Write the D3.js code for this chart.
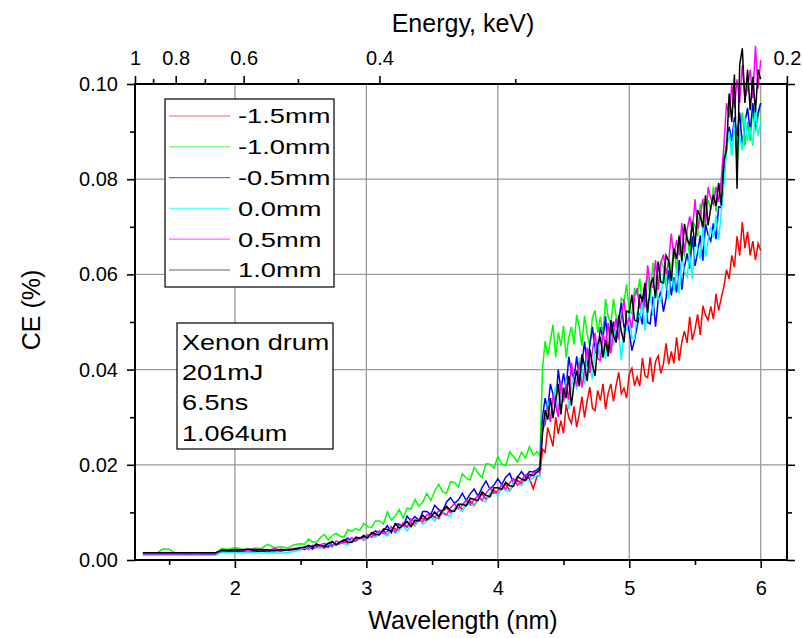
<!DOCTYPE html>
<html>
<head>
<meta charset="utf-8">
<script src="https://cdn.jsdelivr.net/npm/d3@7"></script>
<style>
  body { margin: 0; background: #fff; }
  text { font-family: "Liberation Sans", Arial, sans-serif; fill: #000; }
</style>
</head>
<body>
<svg id="chart" width="803" height="638"></svg>
<script>
// ---------------- DATA ----------------
const wavelengths = [
  1.30,1.35,1.40,1.45,1.50,1.55,1.60,1.65,1.70,1.75,1.80,1.85,1.90,1.95,2.00,2.05,2.10,2.15,2.20,2.25,2.30,2.35,2.40,2.45,2.50,
  2.53,2.56,2.59,2.62,2.65,2.68,2.71,2.74,2.77,2.80,
  2.83,2.86,2.89,2.92,2.95,2.98,3.01,3.04,3.07,3.10,
  3.13,3.16,3.19,3.22,3.25,3.28,3.31,3.34,3.37,3.40,
  3.43,3.46,3.49,3.52,3.55,3.58,3.61,3.64,3.67,3.70,
  3.73,3.76,3.79,3.82,3.85,3.88,3.91,3.94,3.97,4.00,
  4.03,4.06,4.09,4.12,4.15,4.18,4.21,4.24,4.27,4.30,
  4.32,4.34,4.36,4.38,4.40,4.42,4.44,4.46,4.48,4.50,
  4.52,4.54,4.56,4.58,4.60,4.62,4.64,4.66,4.68,4.70,
  4.72,4.74,4.76,4.78,4.80,4.82,4.84,4.86,4.88,4.90,
  4.92,4.94,4.96,4.98,5.00,5.02,5.04,5.06,5.08,5.10,
  5.12,5.14,5.16,5.18,5.20,5.22,5.24,5.26,5.28,5.30,
  5.32,5.34,5.36,5.38,5.40,5.42,5.44,5.46,5.48,5.50,
  5.52,5.54,5.56,5.58,5.60,5.62,5.64,5.66,5.68,5.70,
  5.72,5.74,5.76,5.78,5.80,5.82,5.84,5.86,5.88,5.90,
  5.92,5.94,5.96,5.98,6.00
];

const seriesNames = ["-1.5mm", "-1.0mm", "-0.5mm", "0.0mm", "0.5mm", "1.0mm"];
const seriesColors = ["#ff0000", "#00ff00", "#0000ff", "#00ffff", "#ff00ff", "#000000"];

const ceMinus15 = [
  0.0013,0.0013,0.0013,0.0013,0.0013,0.0013,0.0013,0.0013,0.0013,0.0013,0.0013,0.0013,
  0.0020,0.0020,0.0021,0.0020,0.0021,0.0020,0.0022,0.0021,0.0020,0.0022,0.0021,0.0022,0.0024,
  0.0027,0.0022,0.0028,0.0031,0.0027,0.0025,0.0035,0.0031,0.0031,0.0037,
  0.0042,0.0034,0.0040,0.0040,0.0047,0.0041,0.0049,0.0055,0.0050,0.0054,
  0.0062,0.0051,0.0066,0.0065,0.0062,0.0078,0.0070,0.0078,0.0072,0.0086,
  0.0087,0.0082,0.0096,0.0090,0.0087,0.0102,0.0110,0.0100,0.0106,0.0117,
  0.0105,0.0116,0.0124,0.0114,0.0128,0.0139,0.0128,0.0135,0.0147,0.0138,
  0.0152,0.0160,0.0146,0.0157,0.0168,0.0160,0.0172,0.0172,0.0150,0.0177,
  0.0178,0.0233,0.0226,0.0278,0.0259,0.0239,0.0300,0.0265,0.0293,0.0266,
  0.0327,0.0299,0.0287,0.0323,0.0279,0.0307,0.0343,0.0299,0.0335,0.0363,
  0.0319,0.0314,0.0356,0.0335,0.0370,0.0317,0.0351,0.0370,0.0333,0.0367,
  0.0394,0.0349,0.0361,0.0340,0.0391,0.0403,0.0366,0.0385,0.0365,0.0424,
  0.0387,0.0383,0.0426,0.0374,0.0417,0.0429,0.0392,0.0412,0.0455,0.0411,
  0.0438,0.0413,0.0468,0.0419,0.0458,0.0481,0.0456,0.0511,0.0462,0.0485,
  0.0516,0.0473,0.0534,0.0515,0.0504,0.0533,0.0506,0.0559,0.0524,0.0550,
  0.0575,0.0610,0.0590,0.0640,0.0615,0.0680,0.0640,0.0710,0.0655,0.0690,
  0.0640,0.0670,0.0630,0.0665,0.0650
];
const ceMinus10 = [
  0.0013,0.0013,0.0013,0.0023,0.0023,0.0013,0.0013,0.0013,0.0013,0.0013,0.0013,0.0013,
  0.0024,0.0022,0.0026,0.0023,0.0021,0.0025,0.0024,0.0033,0.0026,0.0028,0.0025,0.0032,0.0034,
  0.0033,0.0044,0.0038,0.0038,0.0047,0.0054,0.0042,0.0051,0.0056,0.0050,
  0.0048,0.0064,0.0060,0.0066,0.0062,0.0077,0.0070,0.0068,0.0082,0.0082,
  0.0076,0.0101,0.0084,0.0092,0.0106,0.0088,0.0109,0.0107,0.0127,0.0113,
  0.0122,0.0140,0.0125,0.0145,0.0159,0.0143,0.0140,0.0164,0.0163,0.0154,
  0.0181,0.0172,0.0168,0.0195,0.0182,0.0173,0.0202,0.0201,0.0193,0.0217,
  0.0202,0.0198,0.0227,0.0217,0.0206,0.0226,0.0214,0.0238,0.0220,0.0228,
  0.0218,0.0400,0.0460,0.0430,0.0462,0.0494,0.0426,0.0478,0.0450,0.0492,
  0.0425,0.0468,0.0490,0.0453,0.0515,0.0488,0.0450,0.0513,0.0475,0.0448,
  0.0510,0.0524,0.0477,0.0511,0.0474,0.0548,0.0511,0.0495,0.0548,0.0512,
  0.0485,0.0550,0.0544,0.0579,0.0523,0.0518,0.0572,0.0557,0.0591,0.0526,
  0.0580,0.0595,0.0550,0.0625,0.0580,0.0575,0.0630,0.0615,0.0570,0.0635,
  0.0610,0.0658,0.0606,0.0684,0.0652,0.0640,0.0688,0.0636,0.0714,0.0702,
  0.0680,0.0749,0.0688,0.0727,0.0756,0.0735,0.0784,0.0732,0.0790,0.0780,
  0.0840,0.0880,0.0910,0.0850,0.0920,0.0830,0.0900,0.0940,0.0870,0.0920,
  0.0880,0.0950,0.0900,0.0930,0.0960
];
const ceMinus05 = [
  0.0010,0.0010,0.0010,0.0010,0.0010,0.0010,0.0010,0.0012,0.0010,0.0010,0.0012,0.0010,
  0.0018,0.0018,0.0019,0.0018,0.0020,0.0018,0.0019,0.0018,0.0020,0.0019,0.0021,0.0022,0.0024,
  0.0022,0.0028,0.0023,0.0029,0.0032,0.0029,0.0027,0.0038,0.0034,0.0034,
  0.0041,0.0046,0.0039,0.0045,0.0045,0.0052,0.0046,0.0055,0.0061,0.0057,
  0.0061,0.0072,0.0057,0.0076,0.0075,0.0071,0.0092,0.0082,0.0091,0.0083,
  0.0102,0.0102,0.0095,0.0115,0.0106,0.0102,0.0122,0.0131,0.0119,0.0126,
  0.0140,0.0125,0.0139,0.0149,0.0134,0.0152,0.0166,0.0149,0.0157,0.0171,
  0.0158,0.0174,0.0182,0.0162,0.0174,0.0186,0.0174,0.0186,0.0185,0.0190,
  0.0195,0.0300,0.0340,0.0315,0.0370,0.0348,0.0325,0.0400,0.0356,0.0392,
  0.0360,0.0427,0.0394,0.0381,0.0428,0.0375,0.0412,0.0459,0.0406,0.0453,
  0.0490,0.0437,0.0433,0.0489,0.0465,0.0512,0.0428,0.0474,0.0501,0.0457,
  0.0504,0.0540,0.0487,0.0503,0.0480,0.0440,0.0462,0.0491,0.0518,0.0495,
  0.0572,0.0499,0.0496,0.0553,0.0490,0.0547,0.0564,0.0522,0.0550,0.0608,
  0.0556,0.0594,0.0562,0.0630,0.0568,0.0616,0.0644,0.0612,0.0680,0.0618,
  0.0645,0.0682,0.0629,0.0706,0.0683,0.0670,0.0707,0.0674,0.0742,0.0740,
  0.0800,0.0870,0.0910,0.0880,0.0930,0.0890,0.0940,0.0870,0.0920,0.0950,
  0.0900,0.0960,0.0910,0.0940,0.0960
];
const ceZero = [
  0.0010,0.0010,0.0010,0.0010,0.0010,0.0010,0.0010,0.0010,0.0010,0.0010,0.0010,0.0010,
  0.0016,0.0016,0.0015,0.0016,0.0015,0.0016,0.0014,0.0016,0.0015,0.0014,0.0016,0.0018,0.0021,
  0.0027,0.0023,0.0030,0.0026,0.0025,0.0031,0.0035,0.0027,0.0034,0.0037,
  0.0034,0.0032,0.0043,0.0041,0.0045,0.0042,0.0052,0.0049,0.0048,0.0057,
  0.0055,0.0051,0.0067,0.0057,0.0063,0.0072,0.0061,0.0074,0.0072,0.0085,
  0.0075,0.0081,0.0091,0.0082,0.0094,0.0103,0.0094,0.0092,0.0107,0.0107,
  0.0103,0.0120,0.0116,0.0115,0.0132,0.0125,0.0122,0.0141,0.0142,0.0137,
  0.0153,0.0146,0.0144,0.0165,0.0160,0.0156,0.0170,0.0166,0.0173,0.0178,
  0.0175,0.0280,0.0285,0.0335,0.0290,0.0328,0.0365,0.0300,0.0356,0.0332,
  0.0380,0.0317,0.0364,0.0391,0.0358,0.0425,0.0402,0.0369,0.0436,0.0403,
  0.0380,0.0447,0.0463,0.0419,0.0455,0.0422,0.0498,0.0464,0.0451,0.0507,
  0.0474,0.0420,0.0487,0.0483,0.0520,0.0467,0.0464,0.0521,0.0508,0.0545,
  0.0482,0.0539,0.0556,0.0513,0.0590,0.0547,0.0544,0.0602,0.0590,0.0548,
  0.0616,0.0564,0.0612,0.0560,0.0638,0.0606,0.0594,0.0642,0.0590,0.0668,
  0.0655,0.0632,0.0699,0.0636,0.0673,0.0700,0.0677,0.0724,0.0672,0.0730,
  0.0790,0.0860,0.0900,0.0850,0.0920,0.0870,0.0890,0.0860,0.0930,0.0880,
  0.0910,0.0870,0.0950,0.0890,0.0920
];
const cePlus05 = [
  0.0013,0.0013,0.0013,0.0013,0.0013,0.0013,0.0013,0.0013,0.0013,0.0013,0.0013,0.0013,
  0.0020,0.0021,0.0020,0.0022,0.0020,0.0023,0.0021,0.0020,0.0024,0.0021,0.0022,0.0024,0.0025,
  0.0027,0.0025,0.0031,0.0026,0.0032,0.0035,0.0031,0.0029,0.0040,0.0036,
  0.0036,0.0042,0.0047,0.0040,0.0046,0.0046,0.0053,0.0048,0.0056,0.0061,
  0.0056,0.0060,0.0070,0.0058,0.0073,0.0073,0.0069,0.0086,0.0078,0.0086,
  0.0080,0.0095,0.0094,0.0089,0.0104,0.0098,0.0095,0.0110,0.0118,0.0109,
  0.0115,0.0126,0.0116,0.0127,0.0135,0.0125,0.0140,0.0151,0.0140,0.0146,
  0.0158,0.0149,0.0162,0.0171,0.0157,0.0167,0.0179,0.0172,0.0183,0.0185,
  0.0185,0.0275,0.0285,0.0325,0.0290,0.0348,0.0325,0.0300,0.0376,0.0332,
  0.0370,0.0337,0.0414,0.0381,0.0368,0.0415,0.0362,0.0399,0.0446,0.0393,
  0.0440,0.0477,0.0423,0.0419,0.0475,0.0452,0.0498,0.0434,0.0481,0.0507,
  0.0464,0.0510,0.0547,0.0493,0.0510,0.0487,0.0554,0.0571,0.0528,0.0555,
  0.0532,0.0619,0.0576,0.0573,0.0630,0.0567,0.0624,0.0642,0.0600,0.0628,
  0.0686,0.0634,0.0672,0.0640,0.0708,0.0646,0.0694,0.0722,0.0690,0.0758,
  0.0695,0.0722,0.0759,0.0706,0.0783,0.0760,0.0747,0.0784,0.0752,0.0800,
  0.0870,0.0960,0.0930,0.1000,0.0950,0.1010,0.0960,0.1040,0.0970,0.0990,
  0.1030,0.0970,0.1080,0.0990,0.1050
];
const cePlus10 = [
  0.0015,0.0015,0.0015,0.0015,0.0015,0.0015,0.0015,0.0015,0.0015,0.0015,0.0015,0.0015,
  0.0021,0.0020,0.0022,0.0021,0.0023,0.0021,0.0022,0.0021,0.0020,0.0022,0.0021,0.0023,0.0026,
  0.0027,0.0031,0.0027,0.0034,0.0030,0.0029,0.0035,0.0039,0.0032,0.0038,
  0.0042,0.0038,0.0037,0.0048,0.0046,0.0050,0.0047,0.0058,0.0054,0.0053,
  0.0065,0.0064,0.0060,0.0076,0.0067,0.0073,0.0081,0.0070,0.0084,0.0082,
  0.0094,0.0085,0.0090,0.0101,0.0092,0.0104,0.0113,0.0104,0.0102,0.0117,
  0.0117,0.0114,0.0130,0.0127,0.0125,0.0143,0.0136,0.0133,0.0152,0.0152,
  0.0148,0.0163,0.0156,0.0155,0.0175,0.0170,0.0167,0.0180,0.0177,0.0185,
  0.0190,0.0265,0.0315,0.0295,0.0340,0.0298,0.0335,0.0370,0.0306,0.0362,
  0.0340,0.0387,0.0324,0.0371,0.0398,0.0365,0.0432,0.0409,0.0376,0.0443,
  0.0410,0.0387,0.0453,0.0469,0.0425,0.0462,0.0428,0.0504,0.0471,0.0457,
  0.0514,0.0480,0.0457,0.0523,0.0520,0.0557,0.0504,0.0501,0.0558,0.0545,
  0.0582,0.0519,0.0576,0.0593,0.0550,0.0627,0.0584,0.0582,0.0640,0.0628,
  0.0586,0.0654,0.0632,0.0680,0.0628,0.0706,0.0674,0.0662,0.0710,0.0658,
  0.0735,0.0722,0.0699,0.0766,0.0703,0.0740,0.0767,0.0744,0.0792,0.0745,
  0.0840,0.0860,0.0980,0.0920,0.1020,0.0780,0.1040,0.1075,0.0960,0.1030,
  0.0945,0.1015,0.0940,0.1030,0.1010
];
const seriesValues = [ceMinus15, ceMinus10, ceMinus05, ceZero, cePlus05, cePlus10];

const yTicks = [0.00, 0.02, 0.04, 0.06, 0.08, 0.10];
const yMinorTicks = [0.01, 0.03, 0.05, 0.07, 0.09];
const xTicks = [2, 3, 4, 5, 6];
const xMinorTicks = [1.5, 2.5, 3.5, 4.5, 5.5];
const energyTicks = [1, 0.8, 0.6, 0.4, 0.2];
const energyMinorTicks = [0.9, 0.7, 0.5, 0.3];
const infoLines = ["Xenon drum", "201mJ", "6.5ns", "1.064um"];
const HC = 1.2398; // keV·nm, converts energy to wavelength for the top axis

// ---------------- CHART ----------------
const svg = d3.select("#chart");
const L = 135, R = 787, T = 84, B = 560;

const x = d3.scaleLinear().domain([1.24, 6.2]).range([L, R]);
const y = d3.scaleLinear().domain([0, 0.10]).range([B, T]);

// grid
const grid = svg.append("g").attr("stroke", "#999").attr("stroke-width", 1.3);
grid.selectAll("line.gx").data(xTicks).join("line")
  .attr("x1", d => x(d)).attr("x2", d => x(d)).attr("y1", T).attr("y2", B);
grid.selectAll("line.gy").data(yTicks.slice(1, -1)).join("line")
  .attr("x1", L).attr("x2", R).attr("y1", d => y(d)).attr("y2", d => y(d));

// data lines
const line = d3.line()
  .defined((d, i) => i < wavelengths.length && d != null)
  .x((d, i) => x(wavelengths[i])).y(d => y(d));
svg.append("g").selectAll("path").data(seriesValues).join("path")
  .attr("d", d => line(d))
  .attr("fill", "none")
  .attr("stroke", (d, i) => seriesColors[i])
  .attr("stroke-width", 1.5)
  .attr("stroke-linejoin", "miter");

function styleAxis(g) {
  g.select(".domain").remove();
  g.selectAll(".tick line").attr("stroke", "#000").attr("stroke-width", 1.6);
  g.selectAll(".tick text").attr("font-size", 20).attr("font-family", "Liberation Sans, Arial, sans-serif");
}

// left
svg.append("g").attr("transform", `translate(${L},0)`)
  .call(d3.axisLeft(y).tickValues(yTicks).tickFormat(d3.format(".2f")).tickSize(8).tickPadding(9))
  .call(styleAxis);
svg.append("g").attr("transform", `translate(${L},0)`)
  .call(d3.axisLeft(y).tickValues(yMinorTicks).tickFormat("").tickSize(5))
  .call(styleAxis);
// right
svg.append("g").attr("transform", `translate(${R},0)`)
  .call(d3.axisRight(y).tickValues(yTicks).tickFormat("").tickSize(8))
  .call(styleAxis);
svg.append("g").attr("transform", `translate(${R},0)`)
  .call(d3.axisRight(y).tickValues(yMinorTicks).tickFormat("").tickSize(5))
  .call(styleAxis);
// bottom
svg.append("g").attr("transform", `translate(0,${B})`)
  .call(d3.axisBottom(x).tickValues(xTicks).tickFormat(d3.format("d")).tickSize(8).tickPadding(13))
  .call(styleAxis);
svg.append("g").attr("transform", `translate(0,${B})`)
  .call(d3.axisBottom(x).tickValues(xMinorTicks).tickFormat("").tickSize(5))
  .call(styleAxis);
// top (energy)
svg.append("g").attr("transform", `translate(0,${T})`)
  .call(d3.axisTop(x).tickValues(energyTicks.map(e => HC / e))
    .tickFormat((d, i) => String(energyTicks[i])).tickSize(8).tickPadding(11))
  .call(styleAxis);
svg.append("g").attr("transform", `translate(0,${T})`)
  .call(d3.axisTop(x).tickValues(energyMinorTicks.map(e => HC / e)).tickFormat("").tickSize(5))
  .call(styleAxis);

// frame
svg.append("rect").attr("x", L).attr("y", T).attr("width", R - L).attr("height", B - T)
  .attr("fill", "none").attr("stroke", "#000").attr("stroke-width", 2);

// titles
svg.append("text").attr("x", 463).attr("y", 622).attr("text-anchor", "middle")
  .attr("dominant-baseline", "middle").attr("font-size", 25).text("Wavelength (nm)");
svg.append("text").attr("x", 463).attr("y", 25).attr("text-anchor", "middle")
  .attr("dominant-baseline", "middle").attr("font-size", 25).text("Energy, keV)");
svg.append("text").attr("transform", "translate(33,310) rotate(-90)").attr("text-anchor", "middle")
  .attr("dominant-baseline", "middle").attr("font-size", 25).text("CE (%)");

// legend
const leg = svg.append("g");
leg.append("rect").attr("x", 165).attr("y", 99).attr("width", 169).attr("height", 188)
  .attr("fill", "#fff").attr("stroke", "#000").attr("stroke-width", 1.2);
const rowY = d3.scalePoint().domain(seriesNames).range([116, 270]);
seriesNames.forEach((name, i) => {
  leg.append("line").attr("x1", 169).attr("x2", 230).attr("y1", rowY(name)).attr("y2", rowY(name))
    .attr("stroke", seriesColors[i]).attr("stroke-width", 1.2).attr("stroke-opacity", 0.6);
  leg.append("text").attr("transform", `translate(238,${rowY(name)}) scale(1.3,1)`)
    .attr("dominant-baseline", "central").attr("font-size", 21).text(name);
});

// info box
const info = svg.append("g");
info.append("rect").attr("x", 177).attr("y", 323).attr("width", 156).attr("height", 126)
  .attr("fill", "#fff").attr("stroke", "#000").attr("stroke-width", 1.2);
const infoY = d3.scalePoint().domain(infoLines).range([342, 433]);
infoLines.forEach(t => {
  info.append("text").attr("transform", `translate(182,${infoY(t)}) scale(1.23,1)`)
    .attr("dominant-baseline", "central").attr("font-size", 22).text(t);
});
</script>
</body>
</html>
